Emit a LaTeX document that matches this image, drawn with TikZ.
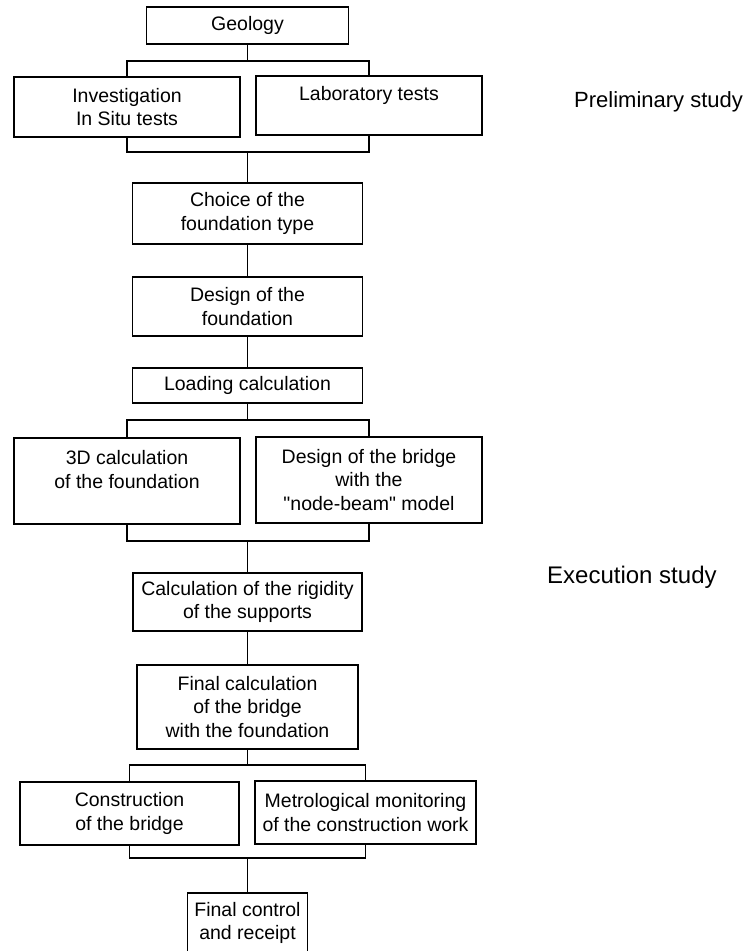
\documentclass[tikz,border=0pt]{standalone}
\usepackage{fontspec}
\setmainfont{Liberation Sans}
\begin{document}
\begin{tikzpicture}[x=1pt,y=-1pt,
  box/.style={draw, line width=1.1pt, inner sep=0pt, align=center,
    font=\fontsize{19.5}{23.5}\selectfont},
  side/.style={inner sep=0pt, font=\fontsize{24}{28}\selectfont},
  link/.style={line width=1.1pt}]
\useasboundingbox (0,0) rectangle (745,951);
% boxes
\node[box, minimum width=202pt, minimum height=37pt] (geo) at (247.5,25.5) {Geology};
\node[box, minimum width=226pt, minimum height=60pt] (inv) at (127,107) {Investigation\\In Situ tests};
\node[box, minimum width=226pt, minimum height=59pt] (lab) at (369,105.5) {Laboratory tests\\\mbox{}};
\node[box, minimum width=230pt, minimum height=61pt] (cho) at (247.5,213.5) {Choice of the\\foundation type};
\node[box, minimum width=230pt, minimum height=59pt] (des) at (247.5,306.5) {Design of the\\foundation};
\node[box, minimum width=230pt, minimum height=35pt] (loa) at (247.5,385.5) {Loading calculation};
\node[box, minimum width=226pt, minimum height=86pt] (tdc) at (127,481) {3D calculation\\of the foundation\\\mbox{}};
\node[box, minimum width=226pt, minimum height=86pt] (dbr) at (369,480) {Design of the bridge\\with the\\\textquotedbl node-beam\textquotedbl\ model};
\node[box, minimum width=229pt, minimum height=58pt] (rig) at (247.5,602) {Calculation of the rigidity\\of the supports};
\node[box, minimum width=221pt, minimum height=84pt] (fin) at (247.5,707) {Final calculation\\of the bridge\\with the foundation};
\node[box, minimum width=219pt, minimum height=63pt] (con) at (129.5,813.5) {Construction\\of the bridge};
\node[box, minimum width=221pt, minimum height=63pt] (met) at (365.5,812.5) {Metrological monitoring\\of the construction work};
\node[box, minimum width=120pt, minimum height=60pt] (fcr) at (247.5,923) {Final control\\and receipt};
% side labels
\node[side, anchor=base west, font=\fontsize{22}{26}\selectfont] (pre) at (574,107) {Preliminary study};
\node[side, anchor=base west] (exe) at (547,583) {Execution study};
% junction points
\coordinate (j1) at (247.5,61);
\coordinate (j2) at (247.5,152);
\coordinate (j3) at (247.5,420);
\coordinate (j4) at (247.5,541);
\coordinate (j5) at (247.5,765);
\coordinate (j6) at (247.5,858);
% connectors
\draw[link] (geo.south) -- (j1);
\draw[link] (inv.north) -- (inv.north |- j1) -- (lab.north |- j1) -- (lab.north);
\draw[link] (inv.south) -- (inv.south |- j2) -- (lab.south |- j2) -- (lab.south);
\draw[link] (j2) -- (cho.north);
\draw[link] (cho.south) -- (des.north);
\draw[link] (des.south) -- (loa.north);
\draw[link] (loa.south) -- (j3);
\draw[link] (tdc.north) -- (tdc.north |- j3) -- (dbr.north |- j3) -- (dbr.north);
\draw[link] (tdc.south) -- (tdc.south |- j4) -- (dbr.south |- j4) -- (dbr.south);
\draw[link] (j4) -- (rig.north);
\draw[link] (rig.south) -- (fin.north);
\draw[link] (fin.south) -- (j5);
\draw[link] (con.north) -- (con.north |- j5) -- (met.north |- j5) -- (met.north);
\draw[link] (con.south) -- (con.south |- j6) -- (met.south |- j6) -- (met.south);
\draw[link] (j6) -- (fcr.north);
\end{tikzpicture}
\end{document}
